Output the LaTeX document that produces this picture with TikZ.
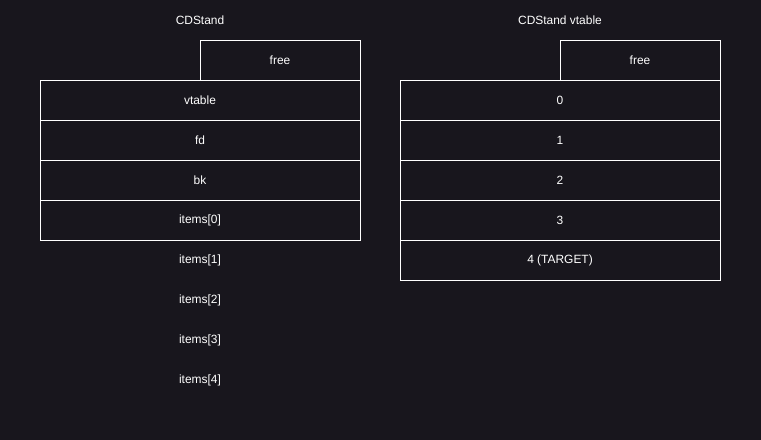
\documentclass[tikz,border=0pt]{standalone}
\usepackage{fontspec}
\setmainfont{Liberation Sans}
\usetikzlibrary{positioning}
\definecolor{bgdark}{RGB}{24,22,29}
\begin{document}
\begin{tikzpicture}[y=-1cm,cell/.style={draw=white,line width=0.7pt,text=white,minimum width=8cm,minimum height=1cm,inner sep=0pt,outer sep=0pt,font=\fontsize{8.5}{10}\selectfont},halfcell/.style={cell,minimum width=4cm,anchor=south east},slot/.style={cell,draw=none},title/.style={text=white,font=\fontsize{8.5}{10}\selectfont}]
\def\lx{5};
\def\rx{14};

\fill[bgdark] (0,0) rectangle (19.025,11);

% CDStand
\node[title] (standT) at (\lx,0.5) {CDStand};
\node[cell] (vtable) at (\lx,2.5) {vtable};
\node[halfcell] (standFree) at (vtable.north east) {free};
\node[cell,below=0pt of vtable] (fd) {fd};
\node[cell,below=0pt of fd] (bk) {bk};
\node[cell,below=0pt of bk] (item0) {items[0]};
\node[slot,below=0pt of item0] (item1) {items[1]};
\node[slot,below=0pt of item1] (item2) {items[2]};
\node[slot,below=0pt of item2] (item3) {items[3]};
\node[slot,below=0pt of item3] (item4) {items[4]};

% CDStand vtable
\node[title] (vtT) at (\rx,0.5) {CDStand vtable};
\node[cell] (vt0) at (\rx,2.5) {0};
\node[halfcell] (vtFree) at (vt0.north east) {free};
\node[cell,below=0pt of vt0] (vt1) {1};
\node[cell,below=0pt of vt1] (vt2) {2};
\node[cell,below=0pt of vt2] (vt3) {3};
\node[cell,below=0pt of vt3] (vt4) {4 (TARGET)};
\end{tikzpicture}
\end{document}
